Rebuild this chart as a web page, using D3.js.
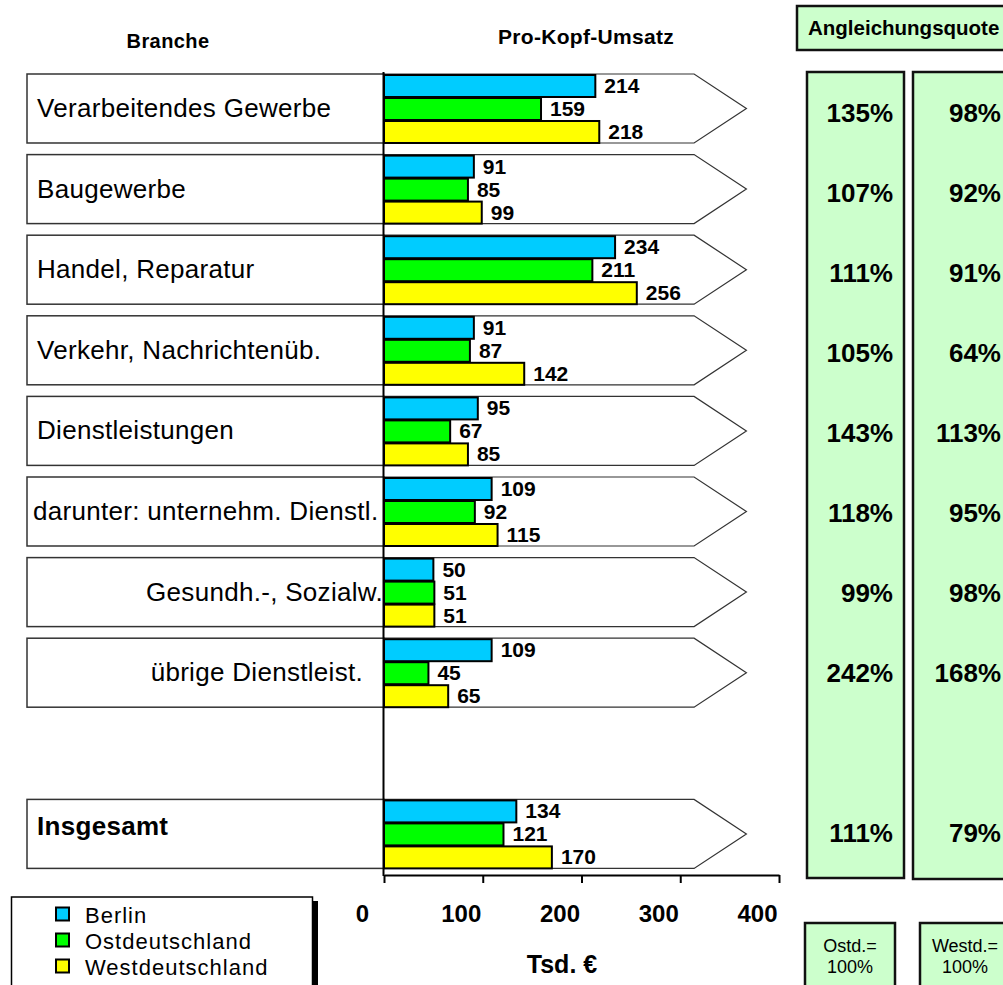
<!DOCTYPE html>
<html><head><meta charset="utf-8">
<script src="https://cdn.jsdelivr.net/npm/d3@7"></script>
<style>
html,body{margin:0;padding:0;background:#fff;}
svg{display:block;font-family:"Liberation Sans",Arial,sans-serif;}
</style></head>
<body>
<svg id="chart" width="1003" height="985"></svg>
<script>
const categories = ["Verarbeitendes Gewerbe","Baugewerbe","Handel, Reparatur","Verkehr, Nachrichtenüb.","Dienstleistungen","darunter: unternehm. Dienstl.","Gesundh.-, Sozialw.","übrige Dienstleist.","Insgesamt"];
const seriesNames = ["Berlin","Ostdeutschland","Westdeutschland"];
const berlin = [214,91,234,91,95,109,50,109,134];
const ost    = [159,85,211,87,67,92,51,45,121];
const west   = [218,99,256,142,85,115,51,65,170];
const quoteOst  = ["135%","107%","111%","105%","143%","118%","99%","242%","111%"];
const quoteWest = ["98%","92%","91%","64%","113%","95%","98%","168%","79%"];
const xTicks = [0,100,200,300,400];
const colors = ["#00CCFF","#00FF00","#FFFF00"];

const svg = d3.select("#chart");
const slots = categories.slice(0,8).concat(["__gap__", categories[8]]);
const y = d3.scaleBand().domain(slots).range([74, 868.4]).paddingInner(0.144).paddingOuter(0);
const x = d3.scaleLinear().domain([0,400]).range([384,779]);
const sub = d3.scaleBand().domain(seriesNames).range([0, y.bandwidth()]);
const pctY = d3.scalePoint().domain(slots).range([113, 833]);

const rows = categories.map((c,i)=>({cat:c, i, vals:[berlin[i], ost[i], west[i]]}));

// header texts
svg.append("text").attr("x",168).attr("y",48).attr("text-anchor","middle")
  .attr("font-weight","bold").attr("font-size",20).attr("letter-spacing",0.4).text("Branche");
svg.append("text").attr("x",586).attr("y",44).attr("text-anchor","middle")
  .attr("font-weight","bold").attr("font-size",21).attr("letter-spacing",0.3).text("Pro-Kopf-Umsatz");

// right panels
const panel = "#CCFFCC";
svg.append("rect").attr("x",797).attr("y",6).attr("width",230).attr("height",44)
  .attr("fill",panel).attr("stroke","#111").attr("stroke-width",2.5);
svg.append("text").attr("x",808).attr("y",35).attr("font-weight","bold").attr("font-size",20.5)
  .text("Angleichungsquote");
svg.append("rect").attr("x",807).attr("y",72).attr("width",97).attr("height",806)
  .attr("fill",panel).attr("stroke","#111").attr("stroke-width",2.5);
svg.append("rect").attr("x",913).attr("y",72).attr("width",110).attr("height",807)
  .attr("fill",panel).attr("stroke","#111").attr("stroke-width",2.5);
svg.append("rect").attr("x",805).attr("y",923).attr("width",90).attr("height",80)
  .attr("fill",panel).attr("stroke","#111").attr("stroke-width",2.5);
svg.append("rect").attr("x",920).attr("y",923).attr("width",90).attr("height",80)
  .attr("fill",panel).attr("stroke","#111").attr("stroke-width",2.5);
[["Ostd.=",850],["Westd.=",965]].forEach(([t,cx])=>{
  svg.append("text").attr("x",cx).attr("y",952).attr("text-anchor","middle").attr("font-size",18).text(t);
  svg.append("text").attr("x",cx).attr("y",973).attr("text-anchor","middle").attr("font-size",18).text("100%");
});

const pctG = svg.append("g").attr("font-weight","bold").attr("font-size",26).attr("text-anchor","end");
pctG.selectAll("text.o").data(rows).join("text").attr("class","o")
  .attr("x",893).attr("y",d=>pctY(slots[d.i===8?9:d.i])).attr("dy","0.35em").text(d=>quoteOst[d.i]);
pctG.selectAll("text.w").data(rows).join("text").attr("class","w")
  .attr("x",1001).attr("y",d=>pctY(slots[d.i===8?9:d.i])).attr("dy","0.35em").text(d=>quoteWest[d.i]);

// rows
const slotOf = d => slots[d.i===8?9:d.i];
const rowG = svg.selectAll("g.row").data(rows).join("g").attr("class","row")
  .attr("transform", d=>`translate(0,${y(slotOf(d))})`);
const bw = y.bandwidth();
rowG.append("rect").attr("x",27).attr("y",0).attr("width",x(0)-27).attr("height",bw)
  .attr("fill","#fff").attr("stroke","#333").attr("stroke-width",1.5);
rowG.append("path").attr("d", `M${x(0)},0 L${x(314)},0 L${x(367)},${bw/2} L${x(314)},${bw} L${x(0)},${bw}`)
  .attr("fill","#fff").attr("stroke","#333").attr("stroke-width",1.2);

rowG.append("text")
  .attr("x", d=> d.i===6 ? 383 : d.i===7 ? 363 : d.i===5 ? 33 : 37)
  .attr("text-anchor", d=> (d.i===6||d.i===7) ? "end" : "start")
  .attr("y", d=> d.i===8 ? bw/2+1 : bw/2+8.5)
  .attr("font-size",26).attr("letter-spacing",0.3)
  .attr("font-weight", d=> d.i===8 ? "bold":"normal")
  .text(d=>d.cat);

// vertical axis line
svg.append("line").attr("x1",x(0)-0.5).attr("x2",x(0)-0.5).attr("y1",72).attr("y2",876)
  .attr("stroke","#000").attr("stroke-width",2);

// bars
rowG.each(function(d){
  const g = d3.select(this);
  const data = d.vals.map((v,k)=>({v,k,name:seriesNames[k]}));
  g.selectAll("rect.bar").data(data).join("rect").attr("class","bar")
    .attr("x",x(0)).attr("y",e=>sub(e.name)+1).attr("width",e=>x(e.v)-x(0)).attr("height",sub.bandwidth()-1)
    .attr("fill",e=>colors[e.k]).attr("stroke","#000").attr("stroke-width",2);
  g.selectAll("text.val").data(data).join("text").attr("class","val")
    .attr("x",e=>x(e.v)+9).attr("y",e=>sub(e.name)+sub.bandwidth()/2).attr("dy","0.36em")
    .attr("font-weight","bold").attr("font-size",21).text(e=>e.v);
});

// x axis
const axis = d3.axisBottom(x).tickValues(xTicks).tickSize(8).tickSizeOuter(0).tickPadding(22);
const ax = svg.append("g").attr("transform","translate(0,875)").call(axis);
ax.select(".domain").attr("stroke","#000").attr("stroke-width",2);
ax.selectAll(".tick line").attr("stroke","#000").attr("stroke-width",2);
ax.selectAll(".tick text").attr("font-family","Liberation Sans, Arial, sans-serif")
  .attr("font-size",24).attr("font-weight","bold").attr("fill","#000").attr("dx",-22);
svg.append("text").attr("x",562).attr("y",973).attr("text-anchor","middle")
  .attr("font-weight","bold").attr("font-size",25).text("Tsd. €");

// legend
svg.append("rect").attr("x",312).attr("y",901).attr("width",6).attr("height",90).attr("fill","#000");
svg.append("rect").attr("x",11.5).attr("y",897).attr("width",301).attr("height",100)
  .attr("fill","#fff").attr("stroke","#000").attr("stroke-width",1.5);
const lg = svg.selectAll("g.leg").data(seriesNames).join("g").attr("class","leg")
  .attr("transform",(d,i)=>`translate(0,${914+i*26})`);
lg.append("rect").attr("x",56).attr("y",-6.5).attr("width",13).attr("height",13)
  .attr("fill",(d,i)=>colors[i]).attr("stroke","#000").attr("stroke-width",2);
lg.append("text").attr("x",85).attr("y",9).attr("font-size",22).attr("letter-spacing",1.0).text(d=>d);
</script>
</body></html>
